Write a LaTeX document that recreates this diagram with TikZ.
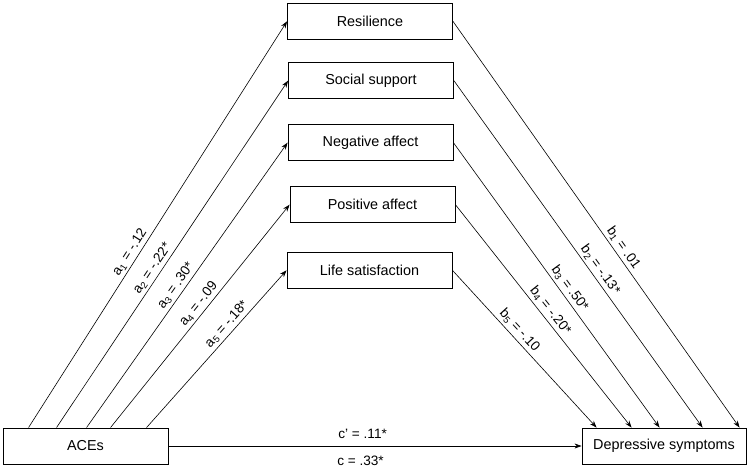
\documentclass[tikz,border=0pt]{standalone}
\usepackage{fontspec}
\setmainfont{Liberation Sans}
\usetikzlibrary{arrows.meta}
\begin{document}
\begin{tikzpicture}[x=1pt,y=-1pt,
  box/.style={draw,line width=0.9pt,minimum width=165pt,minimum height=36pt,inner sep=0pt,font=\fontsize{14.4}{16}\selectfont},
  conn/.style={line width=0.6pt,-{Stealth[length=7pt,width=5pt]}},
  lab/.style={font=\fontsize{13.6}{15}\selectfont,sloped,above,inner sep=2.5pt},
  clab/.style={font=\fontsize{13.6}{15}\selectfont}]
\useasboundingbox (0,0) rectangle (749,472);
\node[box] (res) at (370,21.3) {Resilience};
\node[box] (soc) at (371,80.7) {Social support};
\node[box] (neg) at (370.5,142.7) {Negative affect};
\node[box] (pos) at (372.5,204.7) {Positive affect};
\node[box] (lif) at (369.5,270.3) {Life satisfaction};
\node[box] (ace) at (85.5,446) {ACEs};
\node[box,minimum width=164pt] (dep) at (664,446) {Depressive symptoms};
% a paths
\draw[conn] ([xshift=26pt]ace.north west) -- node[lab,pos=0.42] {a\textsubscript{1} = -.12} (res.west);
\draw[conn] ([xshift=54pt]ace.north west) -- node[lab,pos=0.445] {a\textsubscript{2} = -.22*} (soc.west);
\draw[conn] ([xshift=84pt]ace.north west) -- node[lab,pos=0.48] {a\textsubscript{3} = .30*} (neg.west);
\draw[conn] ([xshift=108pt]ace.north west) -- node[lab,pos=0.53] {a\textsubscript{4} = -.09} (pos.west);
\draw[conn] ([xshift=144pt]ace.north west) -- node[lab,pos=0.62] {a\textsubscript{5} = -.18*} (lif.west);
% b paths
\draw[conn] (res.east) -- node[lab,pos=0.57] {b\textsubscript{1} = .01} ([xshift=158pt]dep.north west);
\draw[conn] (soc.east) -- node[lab,pos=0.56] {b\textsubscript{2} = -.13*} ([xshift=121pt]dep.north west);
\draw[conn] (neg.east) -- node[lab,pos=0.53] {b\textsubscript{3} = .50*} ([xshift=78pt]dep.north west);
\draw[conn] (pos.east) -- node[lab,pos=0.50] {b\textsubscript{4} = -.20*} ([xshift=50pt]dep.north west);
\draw[conn] (lif.east) -- node[lab,pos=0.42] {b\textsubscript{5} = -.10} ([xshift=15pt]dep.north west);
% direct path
\draw[conn] (ace.east) -- node[clab,pos=0.47,above=4pt] {c' = .11*}
  node[clab,pos=0.465,below=6pt] {c = .33*} (dep.west);
\end{tikzpicture}
\end{document}
